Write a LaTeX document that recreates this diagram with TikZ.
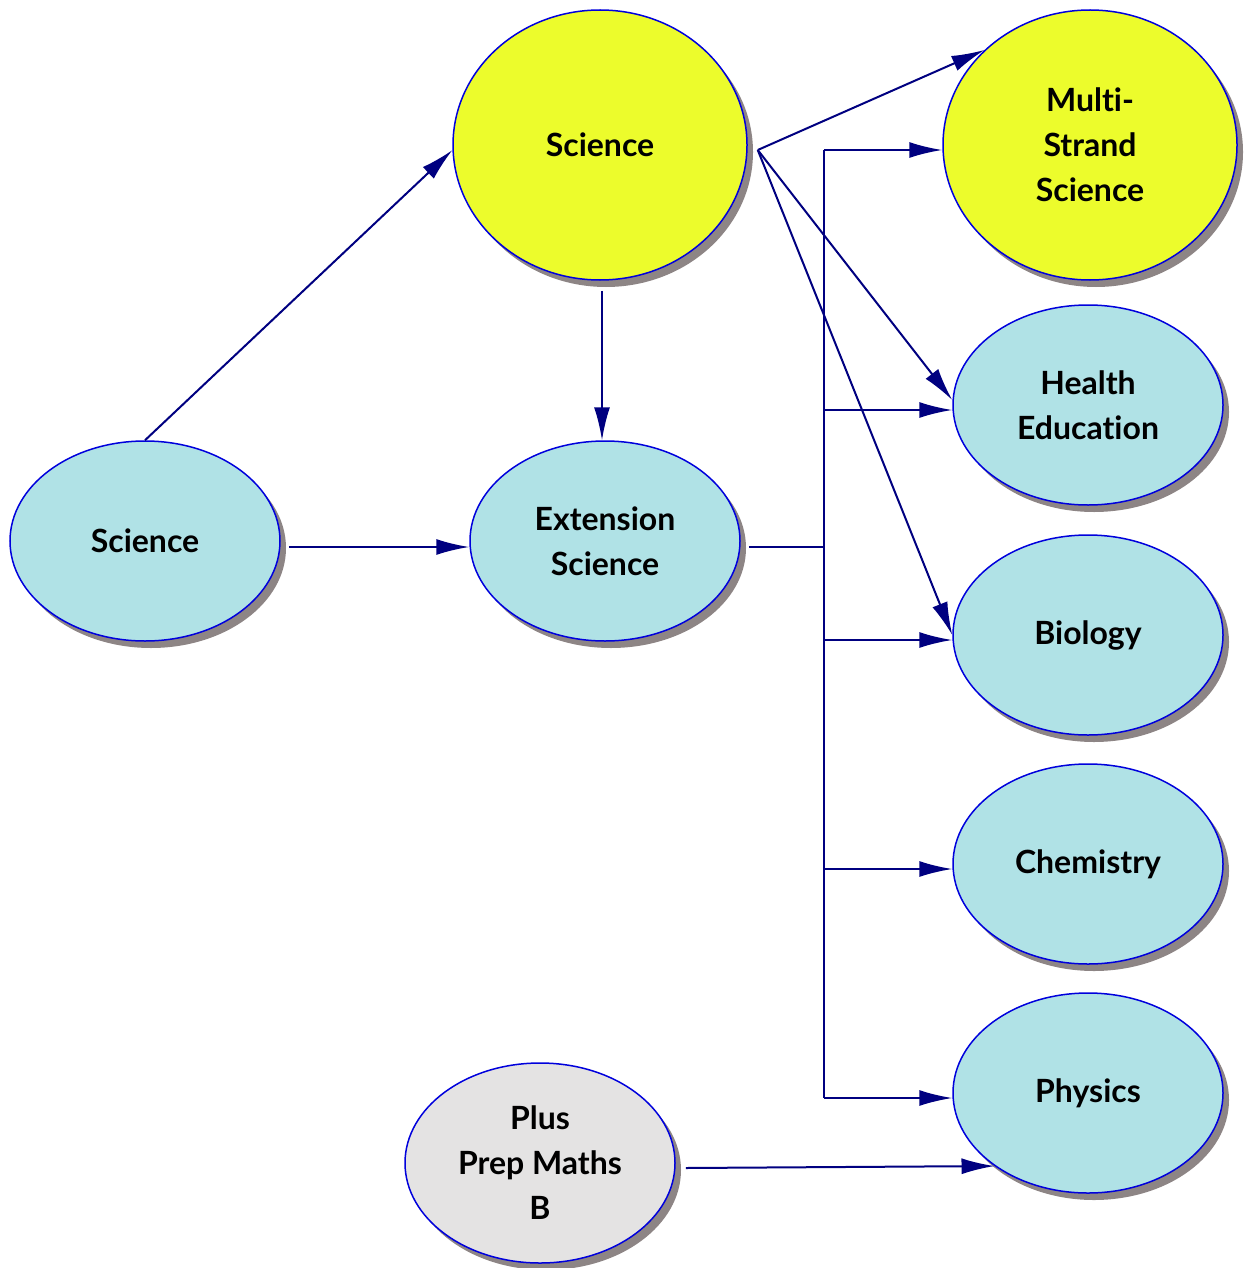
\documentclass[tikz,border=0pt]{standalone}
\usepackage{fontspec}
\setmainfont{Lato}[Ligatures=NoCommon]
\usetikzlibrary{shapes.geometric,shadows,arrows.meta,calc}
\definecolor{lblue}{HTML}{B0E2E6}
\definecolor{yel}{HTML}{ECFC2C}
\definecolor{lgray}{HTML}{E4E3E3}
\definecolor{shad}{HTML}{8D8585}
\definecolor{edge}{HTML}{0000DC}
\definecolor{conn}{HTML}{000080}
\begin{document}
\begin{tikzpicture}[x=1pt,y=-1pt,
  bubble/.style={ellipse, draw=edge, line width=1.5pt, inner sep=0pt, align=center,
     font=\fontsize{32}{45}\selectfont\bfseries,
     drop shadow={shadow xshift=6pt, shadow yshift=-7pt, fill=shad, opacity=1}},
  small/.style={bubble, minimum width=270pt, minimum height=200pt, fill=lblue},
  big/.style={bubble, minimum width=294pt, minimum height=270pt, fill=yel},
  arr/.style={draw=conn, line width=2pt, -{Latex[length=33pt,width=16pt]}},
  ln/.style={draw=conn, line width=2pt}]
\useasboundingbox (0,0) rectangle (1244,1268);
\node[small] (sciL) at (145,541) {Science};
\node[big] (sciT) at (600,145) {Science};
\node[small] (ext) at (605,541) {Extension\\Science};
\node[big] (ms) at (1090,145) {Multi-\\Strand\\Science};
\node[small] (he) at (1088,405) {Health\\Education};
\node[small] (bio) at (1088,635) {Biology};
\node[small] (che) at (1088,864) {Chemistry};
\node[small] (phy) at (1088,1093) {Physics};
\node[small, fill=lgray] (pp) at (540,1163) {Plus\\Prep Maths\\B};
% connectors
\draw[arr] (sciL.north) -- (sciT.182);
\draw[arr] ([xshift=2pt,yshift=-10pt]sciT.south) -- ([xshift=-3pt]ext.north);
\coordinate (sl) at ([xshift=8pt,yshift=-6pt]sciL.east);
\draw[arr] (sl) -- (sl -| ext.west);
\coordinate (hub) at ([xshift=10pt,yshift=-5pt]sciT.east);
\draw[arr] (hub) -- (ms.138);
\draw[arr] (hub) -- ([yshift=5pt]he.west);
\draw[arr] (hub) -- (bio.west);
% bus
\coordinate (es) at ([xshift=8pt,yshift=-6pt]ext.east);
\coordinate (bj) at ([xshift=75pt]es);
\draw[ln] (es) -- (bj);
\coordinate (msIn) at ([yshift=-5pt]ms.west);
\coordinate (heIn) at ([yshift=-5pt]he.west);
\coordinate (bioIn) at ([yshift=-5pt]bio.west);
\coordinate (cheIn) at ([yshift=-5pt]che.west);
\coordinate (phyIn) at ([yshift=-5pt]phy.west);
\draw[ln] (bj |- msIn) -- (bj |- phyIn);
\draw[arr] (bj |- msIn) -- (msIn);
\draw[arr] (bj |- heIn) -- (heIn);
\draw[arr] (bj |- bioIn) -- (bioIn);
\draw[arr] (bj |- cheIn) -- (cheIn);
\draw[arr] (bj |- phyIn) -- (phyIn);
\draw[arr] ([xshift=10pt,yshift=-5pt]pp.east) -- (phy.218);
\end{tikzpicture}
\end{document}
